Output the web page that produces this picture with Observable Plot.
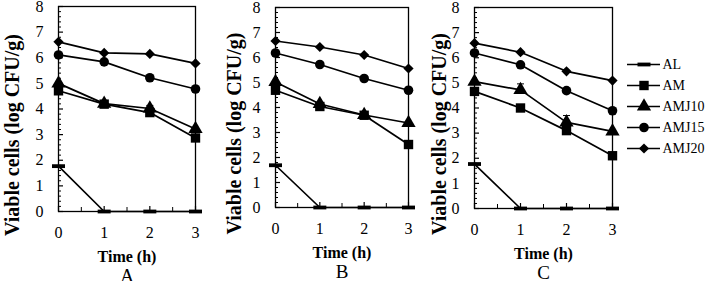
<!DOCTYPE html>
<html><head><meta charset="utf-8">
<script src="https://cdn.jsdelivr.net/npm/d3@7"></script>
<script src="https://cdn.jsdelivr.net/npm/@observablehq/plot@0.6"></script>
<style>
html,body{margin:0;padding:0;background:#fff;}
#wrap{position:relative;width:708px;height:281px;overflow:hidden;background:#fff;}
#wrap svg{position:absolute;top:0;overflow:visible;max-width:none;font-family:"Liberation Serif","Times New Roman",serif !important;}
#wrap svg text{font-family:"Liberation Serif","Times New Roman",serif !important;}
</style></head><body><div id="wrap"></div>
<script>
// ---- data ----
const times = [0, 1, 2, 3];
const seriesNames = ["AL", "AM", "AMJ10", "AMJ15", "AMJ20"];
const panelLabels = ["A", "B", "C"];
const yTicks = [0, 1, 2, 3, 4, 5, 6, 7, 8];
const xTicks = [0, 1, 2, 3];
const yTitle = "Viable cells (log CFU/g)";
const xTitle = "Time (h)";

// Panel A
const A_AL    = [1.77, 0, 0, 0];
const A_AM    = [4.71, 4.19, 3.86, 2.87];
const A_AMJ10 = [5.00, 4.21, 4.02, 3.22];
const A_AMJ15 = [6.11, 5.84, 5.22, 4.78];
const A_AMJ20 = [6.62, 6.19, 6.15, 5.78];
const A_errAMJ10 = [0, 0, 0.12, 0];
// Panel B
const B_AL    = [1.69, 0, 0, 0];
const B_AM    = [4.69, 4.04, 3.69, 2.52];
const B_AMJ10 = [5.02, 4.14, 3.70, 3.38];
const B_AMJ15 = [6.18, 5.72, 5.16, 4.69];
const B_AMJ20 = [6.66, 6.42, 6.10, 5.56];
const B_errAMJ10 = [0, 0, 0, 0];
// Panel C
const C_AL    = [1.77, 0, 0, 0];
const C_AM    = [4.66, 4.00, 3.10, 2.10];
const C_AMJ10 = [5.05, 4.72, 3.43, 3.07];
const C_AMJ15 = [6.19, 5.72, 4.69, 3.89];
const C_AMJ20 = [6.58, 6.22, 5.46, 5.09];
const C_errAMJ10 = [0, 0.24, 0.27, 0];

// ---- styling ----
const barSymbol = {draw(ctx) { const w = 6.5, h = 1.9; ctx.moveTo(-w, -h); ctx.lineTo(w, -h); ctx.lineTo(w, h); ctx.lineTo(-w, h); ctx.closePath(); }};
const capSymbol = {draw(ctx) { ctx.moveTo(-3.5, 0); ctx.lineTo(3.5, 0); }};
const symbols = {AL: barSymbol, AM: "square", AMJ10: "triangle", AMJ15: "circle", AMJ20: "diamond2"};
const radii = {AL: 5, AM: 5.3, AMJ10: 5.3, AMJ15: 4.8, AMJ20: 4.6};

const panels = [
  {label: panelLabels[0], values: [A_AL, A_AM, A_AMJ10, A_AMJ15, A_AMJ20], err: A_errAMJ10, left: 0,   width: 200, ml: 58, mr: 5, mt: 6, mb: 70, titleDx: -46},
  {label: panelLabels[1], values: [B_AL, B_AM, B_AMJ10, B_AMJ15, B_AMJ20], err: B_errAMJ10, left: 220, width: 192, ml: 55, mr: 4, mt: 7, mb: 74, titleDx: -41},
  {label: panelLabels[2], values: [C_AL, C_AM, C_AMJ10, C_AMJ15, C_AMJ20], err: C_errAMJ10, left: 420, width: 196, ml: 54, mr: 4, mt: 7, mb: 73, titleDx: -35}
];

const yMinor = d3.range(0, 8.001, 0.2).filter(v => Math.abs(v - Math.round(v)) > 1e-6);
const xMinor = [0.5, 1.5, 2.5];

const wrap = document.getElementById("wrap");

for (const p of panels) {
  const rows = [];
  seriesNames.forEach((s, i) => times.forEach((t, j) => rows.push({series: s, t, v: p.values[i][j]})));
  const errRows = times.map((t, j) => ({t, v: p.values[2][j], e: p.err[j]})).filter(d => d.e > 0);
  const chart = Plot.plot({
    width: p.width, height: 281,
    marginLeft: p.ml, marginRight: p.mr, marginTop: p.mt, marginBottom: p.mb,
    x: {domain: [0, 3]},
    y: {domain: [0, 8]},
    marks: [
      Plot.axisY({ticks: yTicks, tickSize: -5, tickPadding: 20, tickFormat: d => d, label: null, fontSize: 16, strokeWidth: 1.2}),
      Plot.axisY({ticks: yMinor, tickSize: -3, text: null, label: null, strokeWidth: 1}),
      Plot.axisX({ticks: xTicks, tickSize: -5, tickPadding: 20, tickFormat: d => d, label: null, fontSize: 16, strokeWidth: 1.2}),
      Plot.axisX({ticks: xMinor, tickSize: -4, text: null, label: null, strokeWidth: 1}),
      Plot.frame({stroke: "black", strokeWidth: 1.3}),
      Plot.text([yTitle], {frameAnchor: "left", textAnchor: "middle", lineAnchor: "middle", rotate: -90, dx: p.titleDx, dy: 26, fontWeight: "bold", fontSize: 20}),
      Plot.text([xTitle], {frameAnchor: "bottom", textAnchor: "middle", lineAnchor: "middle", dy: 45, fontWeight: "bold", fontSize: 16}),
      Plot.text([p.label], {frameAnchor: "bottom", textAnchor: "middle", lineAnchor: "middle", dy: 64, fontSize: 19}),
      Plot.line(rows, {x: "t", y: "v", z: "series", stroke: "black", strokeWidth: 1.7}),
      Plot.ruleX(errRows, {x: "t", y1: "v", y2: d => d.v + d.e, stroke: "black", strokeWidth: 1}),
      Plot.dot(errRows, {x: "t", y: d => d.v + d.e, symbol: capSymbol, stroke: "black", fill: "none", strokeWidth: 1}),
      ...seriesNames.map(s => Plot.dot(rows.filter(d => d.series === s), {x: "t", y: "v", symbol: symbols[s], r: radii[s], fill: "black", stroke: "none"}))
    ]
  });
  chart.style.left = p.left + "px";
  chart.style.background = "transparent";
  wrap.appendChild(chart);
}

// legend
const legend = Plot.plot({
  width: 88, height: 281,
  marginLeft: 0, marginRight: 0, marginTop: 0, marginBottom: 0,
  x: {domain: [0, 1], range: [7, 40], axis: null},
  y: {type: "point", domain: seriesNames, range: [53, 158], axis: null},
  marks: [
    Plot.ruleY(seriesNames, {y: d => d, x1: 0, x2: 1, stroke: "black", strokeWidth: 1.7}),
    ...seriesNames.map(s => Plot.dot([s], {x: 0.5, y: d => d, symbol: symbols[s], r: radii[s], fill: "black", stroke: "none"})),
    Plot.text(seriesNames, {x: 1, y: d => d, text: d => d, textAnchor: "start", dx: 2, fontSize: 14})
  ]
});
legend.style.left = "620px";
legend.style.background = "transparent";
wrap.appendChild(legend);
</script>
</body></html>
